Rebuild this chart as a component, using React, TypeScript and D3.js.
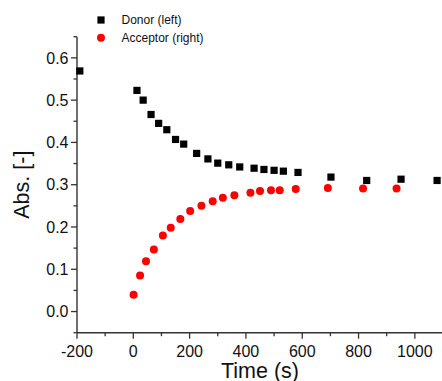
import React from "react";
import * as d3 from "d3";

const donorTime = [-190, 13, 35, 63, 90, 119, 150, 179, 225, 265, 300, 339, 378, 429, 464, 500, 533, 585, 702, 829, 951, 1079];
const donorAbs = [0.569, 0.523, 0.5, 0.466, 0.445, 0.43, 0.407, 0.396, 0.374, 0.361, 0.351, 0.347, 0.342, 0.339, 0.336, 0.334, 0.332, 0.329, 0.318, 0.31, 0.313, 0.31];
const acceptorTime = [1, 24, 45, 73, 105, 133, 167, 202, 242, 282, 318, 359, 416, 450, 489, 520, 577, 691, 816, 935];
const acceptorAbs = [0.04, 0.085, 0.119, 0.147, 0.18, 0.198, 0.219, 0.238, 0.25, 0.261, 0.269, 0.275, 0.281, 0.285, 0.287, 0.287, 0.29, 0.292, 0.291, 0.291];
const xMajorTicks = [-200, 0, 200, 400, 600, 800, 1000];
const xMinorTicks = [-100, 100, 300, 500, 700, 900, 1100];
const yMajorTicks = [0, 0.1, 0.2, 0.3, 0.4, 0.5, 0.6];
const yMinorTicks = [-0.05, 0.05, 0.15, 0.25, 0.35, 0.45, 0.55, 0.65];
const seriesNames = ["Donor (left)", "Acceptor (right)"];

const W = 442;
const H = 381;
const FONT = "'Liberation Sans', Arial, sans-serif";

export default function App() {
  const x = d3.scaleLinear().domain([-200, 1100]).range([77, 443]);
  const y = d3.scaleLinear().domain([-0.05, 0.65]).range([332.7, 36.7]);
  const fmtY = d3.format(".1f");
  const axisColor = "#333";
  const x0 = x(-200);
  const yb = y(-0.05);
  return (
    <svg width={W} height={H} style={{ position: "fixed", left: 0, top: 0, background: "#fff" }} fontFamily={FONT}>
      {/* y axis */}
      <line x1={x0} x2={x0} y1={y(0.65)} y2={yb} stroke={axisColor} strokeWidth={1.4} />
      {yMajorTicks.map((t) => (
        <g key={"ym" + t}>
          <line x1={x0 - 6} x2={x0} y1={y(t)} y2={y(t)} stroke={axisColor} strokeWidth={1.3} />
          <text x={x0 - 8.5} y={y(t)} dy="0.36em" textAnchor="end" fontSize={16} fill="#111">{fmtY(t)}</text>
        </g>
      ))}
      {yMinorTicks.map((t) => (
        <line key={"yn" + t} x1={x0 - 3.5} x2={x0} y1={y(t)} y2={y(t)} stroke={axisColor} strokeWidth={1.3} />
      ))}
      {/* x axis */}
      <line x1={x0} x2={x(1100)} y1={yb} y2={yb} stroke={axisColor} strokeWidth={1.4} />
      {xMajorTicks.map((t) => (
        <g key={"xm" + t}>
          <line x1={x(t)} x2={x(t)} y1={yb} y2={yb + 6} stroke={axisColor} strokeWidth={1.3} />
          <text x={x(t)} y={356.7} textAnchor="middle" fontSize={16} fill="#111">{t}</text>
        </g>
      ))}
      {xMinorTicks.map((t) => (
        <line key={"xn" + t} x1={x(t)} x2={x(t)} y1={yb} y2={yb + 3.5} stroke={axisColor} strokeWidth={1.3} />
      ))}
      {/* axis titles */}
      <text x={260} y={377.5} textAnchor="middle" fontSize={21.5} fill="#111">Time (s)</text>
      <text transform={`translate(28.5,${(y(0.65) + yb) / 2}) rotate(-90)`} textAnchor="middle" fontSize={21.5} fill="#111">Abs. [-]</text>
      {/* data */}
      {donorTime.map((t, i) => (
        <rect key={"d" + i} x={x(t) - 3.6} y={y(donorAbs[i]) - 3.6} width={7.2} height={7.2} fill="#000" />
      ))}
      {acceptorTime.map((t, i) => (
        <circle key={"a" + i} cx={x(t)} cy={y(acceptorAbs[i])} r={4} fill="#f00" />
      ))}
      {/* legend */}
      <rect x={101 - 3.6} y={20 - 3.6} width={7.2} height={7.2} fill="#000" />
      <text x={121.5} y={24} fontSize={12} fill="#111">{seriesNames[0]}</text>
      <circle cx={101} cy={37.7} r={4} fill="#f00" />
      <text x={121.5} y={41.7} fontSize={12} fill="#111">{seriesNames[1]}</text>
    </svg>
  );
}
